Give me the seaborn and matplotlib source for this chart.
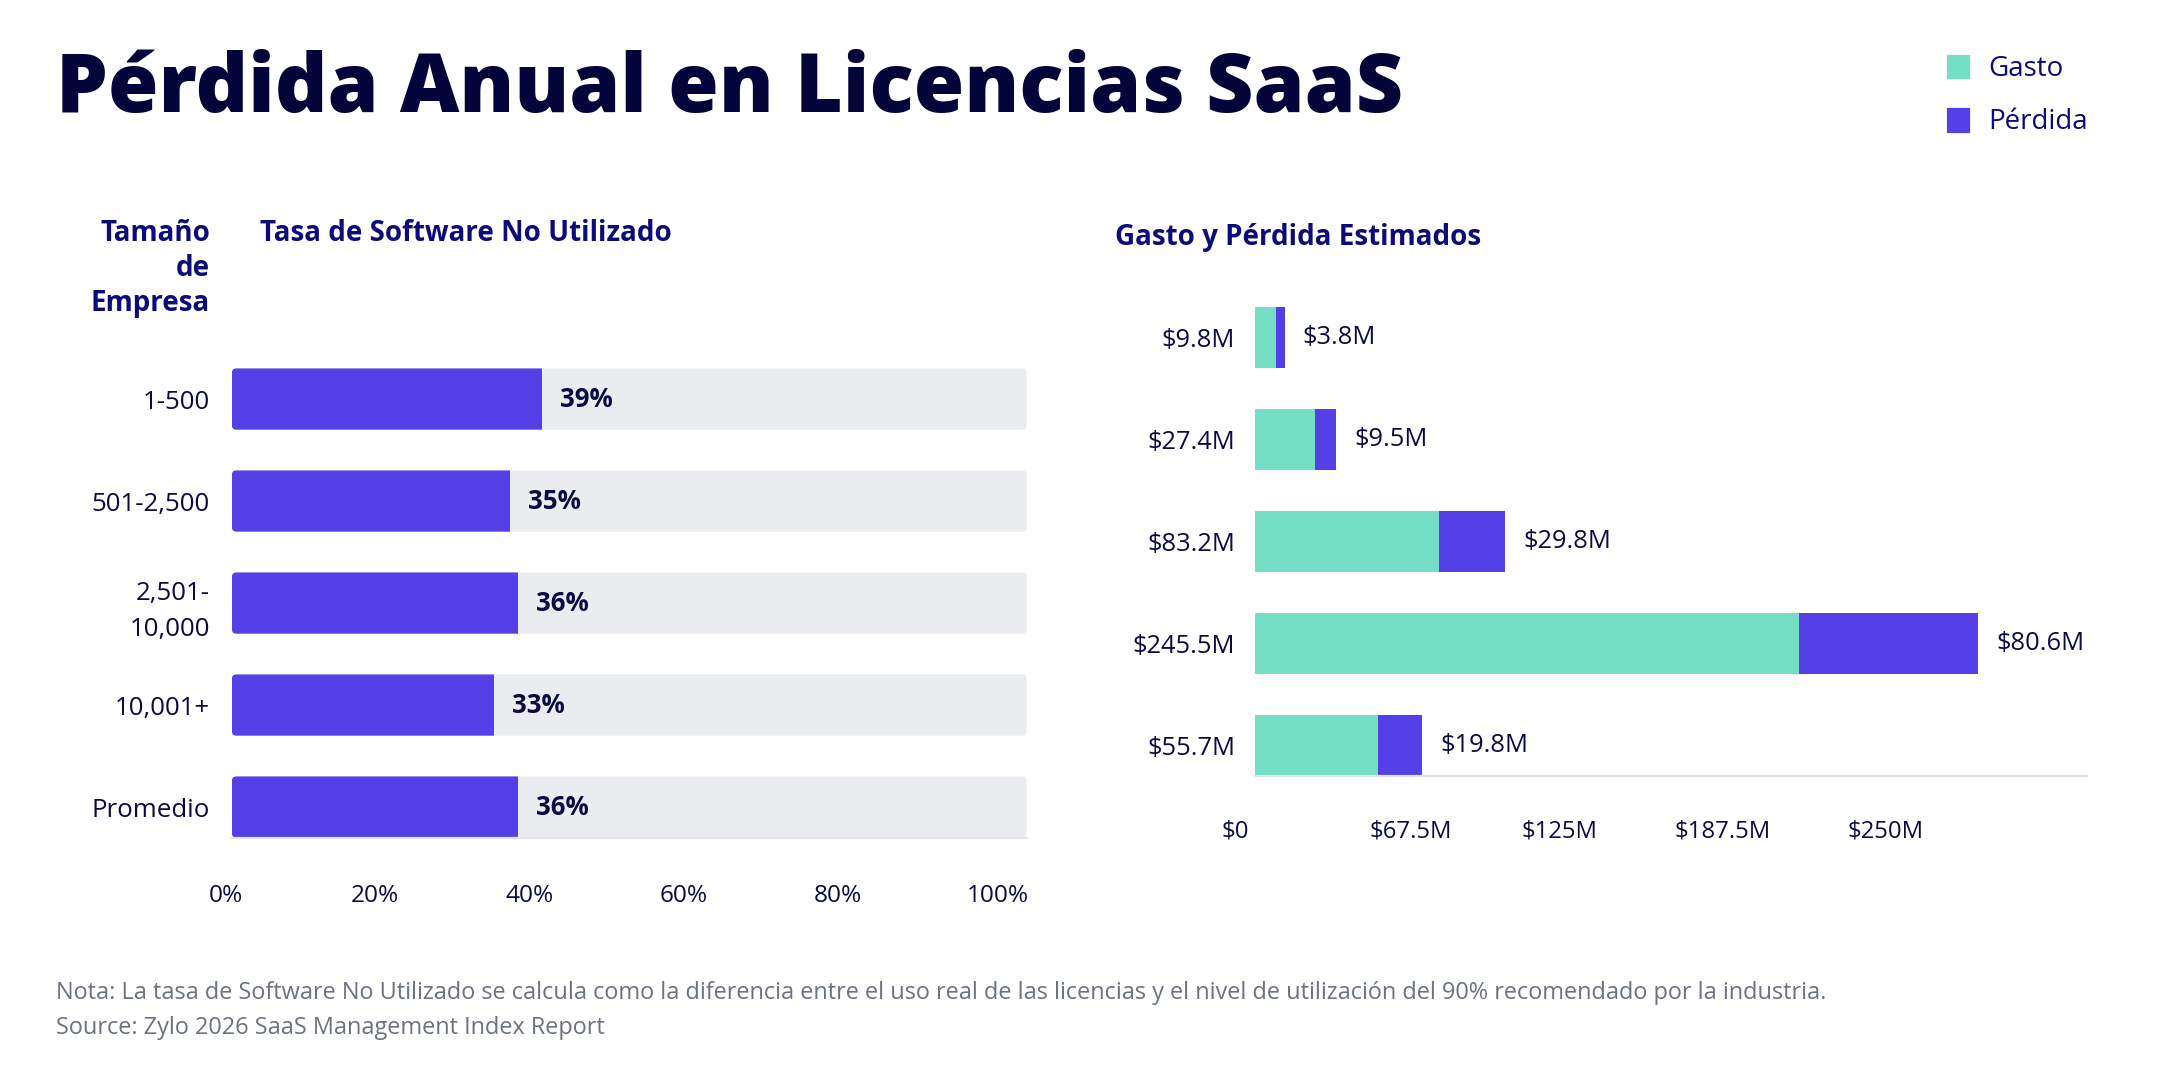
import numpy as np
import pandas as pd
import matplotlib
matplotlib.use('Agg')
import matplotlib.pyplot as plt
import seaborn as sns
from matplotlib.patches import Patch, FancyBboxPatch

# data
sizes = ['1-500', '501-2,500', '2,501-\n10,000', '10,001+', 'Promedio']
unused_rate = [39, 35, 36, 33, 36]
spend = [9.8, 27.4, 83.2, 245.5, 55.7]
loss = [3.8, 9.5, 29.8, 80.6, 19.8]
pct_ticks = ['0%', '20%', '40%', '60%', '80%', '100%']
money_ticks = ['$0', '$67.5M', '$125M', '$187.5M', '$250M']

PURPLE = '#5440E6'
TEAL = '#74DFC5'
TRACK = '#EBECF0'
TITLE_C = '#03043A'
HEAD_C = '#0B0B7A'
TEXT_C = '#0A0B45'
NOTE_C = '#6B7280'
BAR_H = 0.6

sns.set_theme(style='white')
plt.rcParams['font.family'] = ['Open Sans', 'DejaVu Sans']

fig = plt.figure(figsize=(10.81, 5.33), dpi=200)
fig.patch.set_facecolor('white')

df_left = pd.DataFrame({'size': sizes, 'rate': unused_rate, 'full': [100] * len(sizes)})
df_right = pd.DataFrame({'label': [f'${v}M' for v in spend], 'spend': spend, 'loss': loss})
df_right['total'] = df_right['spend'] + df_right['loss']


def style_axis(ax, xmin, xmax):
    # the first tick label sits a bit left of zero, so the view starts below 0
    ax.set_xlim(xmin, xmax)
    ax.set_ylim(4 + BAR_H / 2, -0.5)
    ax.set_xlabel('')
    ax.set_ylabel('')
    for s in ['top', 'right', 'left']:
        ax.spines[s].set_visible(False)
    ax.spines['bottom'].set_bounds(0, xmax)
    ax.spines['bottom'].set_color('#E3E4EA')
    ax.spines['bottom'].set_linewidth(0.8)


def round_bars(ax, patches, rx, ry):
    # swap seaborn's rectangles for ones with a small corner radius
    rounded = []
    for p in patches:
        x, y, w, h = p.get_x(), p.get_y(), p.get_width(), p.get_height()
        fc = p.get_facecolor()
        p.remove()
        rp = FancyBboxPatch((x, y), w, h, boxstyle=f'round,pad=0,rounding_size={rx}',
                            mutation_aspect=ry / rx, fc=fc, ec='none', zorder=1)
        ax.add_patch(rp)
        rounded.append(rp)
    return rounded


# left panel: unused software rate
ax1 = fig.add_axes([0.10436, 0.2142, 0.37044, 0.4593])
sns.barplot(data=df_left, x='full', y='size', color=TRACK, width=BAR_H, ax=ax1,
            saturation=1, linewidth=0)
track_bars = list(ax1.patches)
sns.barplot(data=df_left, x='rate', y='size', color=PURPLE, width=BAR_H, ax=ax1,
            saturation=1, linewidth=0)
rate_bars = [p for p in ax1.patches if p not in track_bars]
tracks = round_bars(ax1, track_bars, 0.55, 0.04)
for bar, tr in zip(rate_bars, tracks):
    bar.set_zorder(2)
    bar.set_clip_path(tr)
for i, v in enumerate(unused_rate):
    ax1.annotate(f'{v}%', (v, i), xytext=(6.5, 0), textcoords='offset points',
                 ha='left', va='center', fontsize=9.3, fontweight='bold', color=TEXT_C)
ax1.set_xticks([-0.8, 18, 37.4, 56.8, 76.2, 96.4])
ax1.set_xticklabels(pct_ticks)
style_axis(ax1, -0.8, 100)
ax1.tick_params(axis='x', length=0, pad=16.8, labelsize=8.8, labelcolor=TEXT_C)
ax1.tick_params(axis='y', length=0, pad=5.7, labelsize=9.3, labelcolor=TEXT_C)
for lab in ax1.get_yticklabels():
    lab.set_linespacing(1.55)

# right panel: spend and loss
ax2 = fig.add_axes([0.57123, 0.2720, 0.39390, 0.4593])
sns.barplot(data=df_right, x='total', y='label', color=PURPLE, width=BAR_H, ax=ax2,
            saturation=1, linewidth=0)
sns.barplot(data=df_right, x='spend', y='label', color=TEAL, width=BAR_H, ax=ax2,
            saturation=1, linewidth=0)
for i, (t, l) in enumerate(zip(df_right['total'], loss)):
    ax2.annotate(f'${l}M', (t, i), xytext=(6.5, 0), textcoords='offset points',
                 ha='left', va='center', fontsize=9.2, color=TEXT_C)
ax2.set_xticks([-8.8, 70.3, 137.5, 211, 284.4])
ax2.set_xticklabels(money_ticks)
style_axis(ax2, -8.8, 375)
ax2.tick_params(axis='x', length=0, pad=15.5, labelsize=8.6, labelcolor=TEXT_C)
ax2.tick_params(axis='y', length=0, pad=0, labelsize=9.2, labelcolor=TEXT_C)

# titles and headers
fig.text(0.0259, 0.895, 'Pérdida Anual en Licencias SaaS', fontsize=29.5, fontweight=800,
         color=TITLE_C, ha='left', va='baseline')
fig.text(0.0971, 0.795, 'Tamaño\nde\nEmpresa', fontsize=10, fontweight='bold', color=HEAD_C,
         ha='right', va='top', linespacing=1.28)
fig.text(0.1203, 0.795, 'Tasa de Software No Utilizado', fontsize=10, fontweight='bold',
         color=HEAD_C, ha='left', va='top')
fig.text(0.5155, 0.791, 'Gasto y Pérdida Estimados', fontsize=10, fontweight='bold',
         color=HEAD_C, ha='left', va='top')

handles = [Patch(facecolor=TEAL, label='Gasto'), Patch(facecolor=PURPLE, label='Pérdida')]
fig.legend(handles=handles, loc='upper left', bbox_to_anchor=(0.888, 0.974), frameon=False,
           fontsize=10, labelcolor=HEAD_C, handlelength=0.95, handleheight=1.15,
           handletextpad=0.6, labelspacing=0.84)

fig.text(0.0259, 0.063, 'Nota: La tasa de Software No Utilizado se calcula como la diferencia entre '
         'el uso real de las licencias y el nivel de utilización del 90% recomendado por la industria.',
         fontsize=8.45, color=NOTE_C, ha='left', va='baseline')
fig.text(0.0259, 0.030, 'Source: Zylo 2026 SaaS Management Index Report',
         fontsize=8.45, color=NOTE_C, ha='left', va='baseline')

fig.savefig('out.png', dpi=200, facecolor='white')
